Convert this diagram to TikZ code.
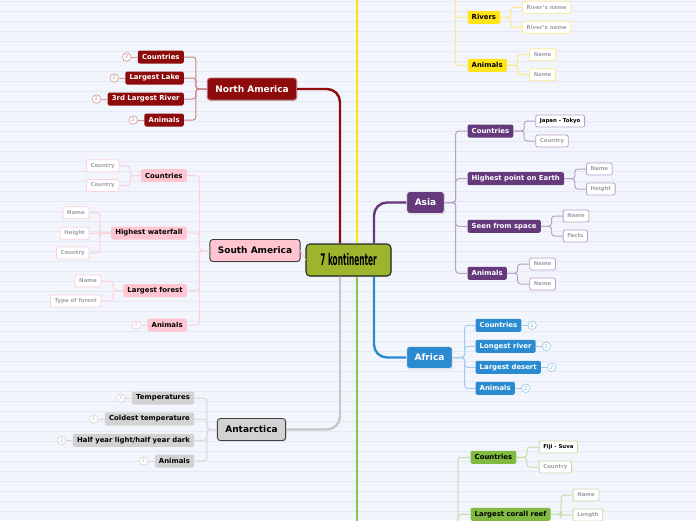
\documentclass[tikz,border=0pt]{standalone}
\usepackage{fontspec}
\setmainfont{DejaVu Sans}
\newfontfamily\titlefont[FakeStretch=0.46]{DejaVu Sans}
\usepackage{tikz}
\usetikzlibrary{positioning,calc,shadows}

\definecolor{paper}{HTML}{F3F5FD}
\definecolor{paperline}{HTML}{E5E9F5}
\definecolor{centre}{HTML}{9DB52D}
\definecolor{nared}{HTML}{8E0B0B}
\definecolor{nalink}{HTML}{C98585}
\definecolor{nabadge}{HTML}{D9A0A0}
\definecolor{sapink}{HTML}{FFC6D1}
\definecolor{salink}{HTML}{F9D2DC}
\definecolor{antgrey}{HTML}{D2D2D2}
\definecolor{antlink}{HTML}{D8D8D8}
\definecolor{trunkgrey}{HTML}{C8C8C8}
\definecolor{aspurple}{HTML}{65397C}
\definecolor{aslink}{HTML}{B7A1C9}
\definecolor{afblue}{HTML}{2A8BD0}
\definecolor{aflink}{HTML}{A2CCEF}
\definecolor{ocgreen}{HTML}{80BA40}
\definecolor{oclink}{HTML}{C4DFA6}
\definecolor{trunkgreen}{HTML}{8CC34B}
\definecolor{euyellow}{HTML}{FFE41A}
\definecolor{eulink}{HTML}{FBE98E}
\definecolor{trunkyellow}{HTML}{FFE500}
\definecolor{leafgrey}{HTML}{A2A2AC}

\newcommand\branchtext{\fontsize{9pt}{11pt}\selectfont\bfseries}
\newcommand\topictext{\fontsize{6.9pt}{8pt}\selectfont\bfseries}
\newcommand\leaftext{\fontsize{5.4pt}{6.5pt}\selectfont\bfseries}
\newcommand\badgetext{\fontsize{5pt}{6pt}\selectfont}

\begin{document}
\begin{tikzpicture}[x=1pt, y=-1pt,
  branch/.style={rounded corners=3pt, minimum height=22pt, inner xsep=8pt, inner ysep=0pt, line width=0.9pt, font=\branchtext,
    drop shadow={shadow xshift=0.6pt, shadow yshift=-0.8pt, opacity=0.3}},
  topic/.style={rounded corners=2pt, minimum height=13pt, inner xsep=4.2pt, inner ysep=0pt, font=\topictext},
  leaf/.style={draw=#1, fill=white, line width=0.8pt, rounded corners=2pt, minimum height=12pt, inner xsep=4.2pt, inner ysep=0pt, font=\leaftext, text=leafgrey},
  badge/.style={circle, draw=#1, fill=white, line width=0.7pt, minimum size=8.5pt, inner sep=0pt, font=\badgetext, text=#1!85!black},
  link/.style={draw=#1, line width=1pt, rounded corners=3pt},
  trunk/.style={draw=#1, line width=2.4pt, rounded corners=13pt}]

  % paper
  \useasboundingbox (0,0) rectangle (696,520);
  \clip (0,0) rectangle (696,520);
  \fill[paper] (0,0) rectangle (696,520);
  \foreach \y in {1,11,...,511}
    \draw[paperline, line width=0.6pt] (0,\y) -- (696,\y);

  % centre and main branches
  \node[draw=black!85, fill=centre, line width=1.1pt, rounded corners=4pt, minimum width=85pt, minimum height=32pt,
    font=\fontsize{16pt}{18pt}\selectfont, drop shadow={shadow xshift=0.6pt, shadow yshift=-0.8pt, opacity=0.3}]
    (ctr) at (348.5,260) {\titlefont\bfseries 7 kontinenter};
  \node[branch, fill=nared, text=white, draw=nared!60!white] (na) at (252,89) {North America};
  \node[branch, fill=sapink, draw=black!75] (sa) at (255,250.5) {South America};
  \node[branch, fill=antgrey, draw=black!75] (ant) at (251.5,429.5) {Antarctica};
  \node[branch, fill=aspurple, text=white, draw=white!80!gray] (asia) at (425.5,202.5) {Asia};
  \node[branch, fill=afblue, text=white, draw=white!80!gray] (africa) at (429.5,357.5) {Africa};
  \coordinate (eutrunk) at (357,-10);
  \coordinate (octrunk) at (357,530);
  \coordinate (eustem) at (455.3,-12);
  \coordinate (ocstem) at (458,532);

  % trunks
  \draw[trunk=nared] ($(ctr.north)+(-8.5,0)$) |- (na.east);
  \draw[trunk=trunkyellow] ($(ctr.north)+(8.5,0)$) -- (eutrunk);
  \draw[trunk=aspurple] ($(ctr.north)+(25.5,0)$) |- (asia.west);
  \draw[trunk=afblue] ($(ctr.south)+(25.5,0)$) |- (africa.west);
  \draw[trunk=trunkgrey] ($(ctr.south)+(-8.5,0)$) |- (ant.east);
  \draw[trunk=trunkgreen] ($(ctr.south)+(8.5,0)$) -- (octrunk);
  \draw[link=salink, line width=1.4pt] (sa.east) -- (ctr.west);

  % North America
  \node[topic, fill=nared, text=white, anchor=east] (nac1) at (184,57) {Countries};
  \node[topic, fill=nared, text=white, anchor=east] (nac2) at (184,78) {Largest Lake};
  \node[topic, fill=nared, text=white, anchor=east] (nac3) at (184,99) {3rd Largest River};
  \node[topic, fill=nared, text=white, anchor=east] (nac4) at (184,120) {Animals};
  \foreach \c in {nac1,nac2,nac3,nac4} {
    \draw[link=nalink] (na.west) -- ++(-11,0) |- (\c.east);
    \node[badge=nabadge, left=6.4pt of \c] (\c-b) {2};
    \draw[link=nabadge] (\c-b) -- (\c);
  }

  % South America
  \node[topic, fill=sapink, anchor=east] (sac1) at (187,175.5) {Countries};
  \node[topic, fill=sapink, anchor=east] (sac2) at (187,233) {Highest waterfall};
  \node[topic, fill=sapink, anchor=east] (sac3) at (187,290.5) {Largest forest};
  \node[topic, fill=sapink, anchor=east] (sac4) at (187,325) {Animals};
  \foreach \c in {sac1,sac2,sac3,sac4}
    \draw[link=salink] (sa.west) -- ++(-10,0) |- (\c.east);
  \node[leaf=salink, anchor=east] (sal11) at (119.3,165.8) {Country};
  \node[leaf=salink, anchor=east] (sal12) at (119.3,185.5) {Country};
  \node[leaf=salink, anchor=east] (sal21) at (89.3,212.7) {Name};
  \node[leaf=salink, anchor=east] (sal22) at (89.3,233.3) {Height};
  \node[leaf=salink, anchor=east] (sal23) at (89.3,253) {Country};
  \node[leaf=salink, anchor=east] (sal31) at (101.3,281) {Name};
  \node[leaf=salink, anchor=east] (sal32) at (101.3,301) {Type of forest};
  \foreach \l in {sal11,sal12}
    \draw[link=salink] (sac1.west) -- ++(-10.6,0) |- (\l.east);
  \foreach \l in {sal21,sal22,sal23}
    \draw[link=salink] (sac2.west) -- ++(-11,0) |- (\l.east);
  \foreach \l in {sal31,sal32}
    \draw[link=salink] (sac3.west) -- ++(-10,0) |- (\l.east);
  \node[badge=salink, left=6.4pt of sac4] (sac4-b) {2};
  \draw[link=salink] (sac4-b) -- (sac4);

  % Antarctica
  \node[topic, fill=antgrey, anchor=east] (anc1) at (194.3,398) {Temperatures};
  \node[topic, fill=antgrey, anchor=east] (anc2) at (194.3,419) {Coldest temperature};
  \node[topic, fill=antgrey, anchor=east] (anc3) at (194.3,440.3) {Half year light/half year dark};
  \node[topic, fill=antgrey, anchor=east] (anc4) at (194.3,461) {Animals};
  \foreach \c/\n in {anc1/2,anc2/1,anc3/2,anc4/2} {
    \draw[link=antlink] (ant.west) -- ++(-10,0) |- (\c.east);
    \node[badge=antlink, left=6.4pt of \c] (\c-b) {\n};
    \draw[link=antlink] (\c-b) -- (\c);
  }

  % Asia
  \node[topic, fill=aspurple, text=white, anchor=west] (asc1) at (467.3,131) {Countries};
  \node[topic, fill=aspurple, text=white, anchor=west] (asc2) at (467.3,178.7) {Highest point on Earth};
  \node[topic, fill=aspurple, text=white, anchor=west] (asc3) at (467.3,226.3) {Seen from space};
  \node[topic, fill=aspurple, text=white, anchor=west] (asc4) at (467.3,273.3) {Animals};
  \foreach \c in {asc1,asc2,asc3,asc4}
    \draw[link=aslink] (asia.east) -- ++(11,0) |- (\c.west);
  \node[leaf=aslink, anchor=west, text=black] (asl11) at (535.3,121) {Japan - Tokyo};
  \node[leaf=aslink, anchor=west] (asl12) at (535.3,141) {Country};
  \node[leaf=aslink, anchor=west] (asl21) at (586,169) {Name};
  \node[leaf=aslink, anchor=west] (asl22) at (586,189) {Height};
  \node[leaf=aslink, anchor=west] (asl31) at (562.7,216) {Name};
  \node[leaf=aslink, anchor=west] (asl32) at (562.7,236) {Facts};
  \node[leaf=aslink, anchor=west] (asl41) at (529.3,264) {Name};
  \node[leaf=aslink, anchor=west] (asl42) at (529.3,284) {Name};
  \foreach \t/\l in {asc1/asl11,asc1/asl12,asc2/asl21,asc2/asl22,asc3/asl31,asc3/asl32,asc4/asl41,asc4/asl42}
    \draw[link=aslink] (\t.east) -- ++(10.6,0) |- (\l.west);

  % Africa
  \node[topic, fill=afblue, text=white, anchor=west] (afc1) at (475.3,325.3) {Countries};
  \node[topic, fill=afblue, text=white, anchor=west] (afc2) at (475.3,346.3) {Longest river};
  \node[topic, fill=afblue, text=white, anchor=west] (afc3) at (475.3,367.3) {Largest desert};
  \node[topic, fill=afblue, text=white, anchor=west] (afc4) at (475.3,388.3) {Animals};
  \foreach \c in {afc1,afc2,afc3,afc4} {
    \draw[link=aflink] (africa.east) -- ++(11.7,0) |- (\c.west);
    \node[badge=aflink, right=6pt of \c] (\c-b) {2};
    \draw[link=aflink] (\c) -- (\c-b);
  }

  % Oceania
  \node[topic, fill=ocgreen, anchor=west] (occ1) at (470.3,457.3) {Countries};
  \node[topic, fill=ocgreen, anchor=west] (occ2) at (470.3,514.3) {Largest corall reef};
  \foreach \c in {occ1,occ2}
    \draw[link=oclink] (ocstem) |- (\c.west);
  \node[leaf=oclink, anchor=west, text=black] (ocl11) at (538.7,447) {Fiji - Suva};
  \node[leaf=oclink, anchor=west] (ocl12) at (538.7,467) {Country};
  \node[leaf=oclink, anchor=west] (ocl21) at (572.7,495) {Name};
  \node[leaf=oclink, anchor=west] (ocl22) at (572.7,515) {Length};
  \foreach \t/\l in {occ1/ocl11,occ1/ocl12,occ2/ocl21,occ2/ocl22}
    \draw[link=oclink] (\t.east) -- ++(10.3,0) |- (\l.west);

  % Europe
  \node[topic, fill=euyellow, anchor=west] (euc1) at (467.3,17.3) {Rivers};
  \node[topic, fill=euyellow, anchor=west] (euc2) at (467.3,65.3) {Animals};
  \foreach \c in {euc1,euc2}
    \draw[link=eulink] (eustem) |- (\c.west);
  \node[leaf=eulink, anchor=west] (eul11) at (522,7.3) {River's name};
  \node[leaf=eulink, anchor=west] (eul12) at (522,27.3) {River's name};
  \node[leaf=eulink, anchor=west] (eul21) at (529.3,54.7) {Name};
  \node[leaf=eulink, anchor=west] (eul22) at (529.3,74.7) {Name};
  \foreach \t/\l in {euc1/eul11,euc1/eul12,euc2/eul21,euc2/eul22}
    \draw[link=eulink] (\t.east) -- ++(10.5,0) |- (\l.west);
\end{tikzpicture}
\end{document}
